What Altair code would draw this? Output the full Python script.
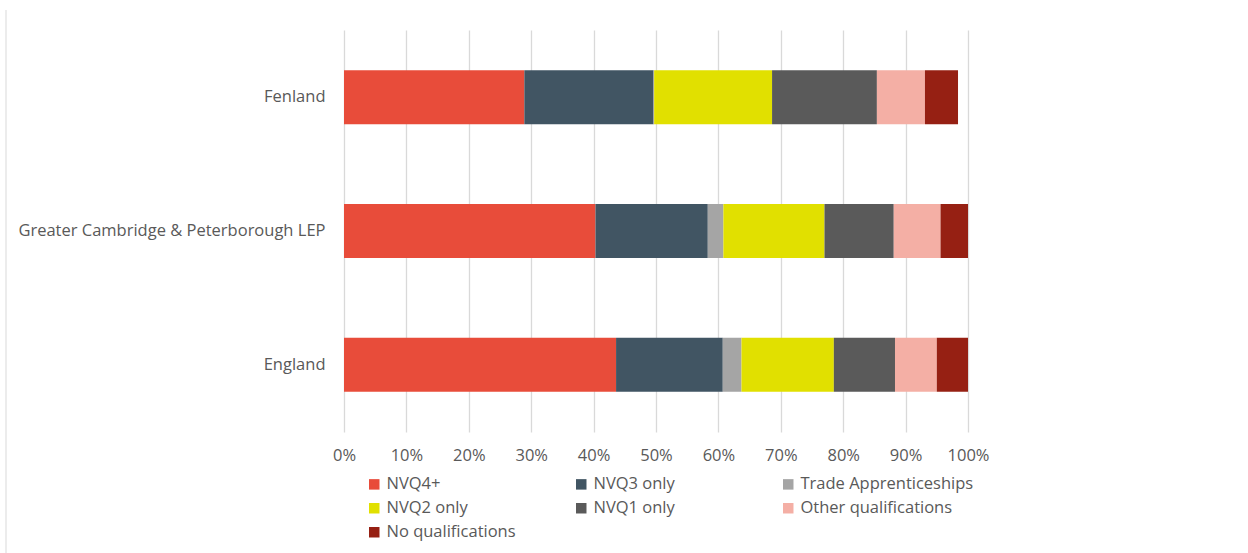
import altair as alt
import pandas as pd

areas = ["Fenland", "Greater Cambridge & Peterborough LEP", "England"]
categories = ["NVQ4+", "NVQ3 only", "Trade Apprenticeships", "NVQ2 only",
              "NVQ1 only", "Other qualifications", "No qualifications"]
colors = ["#E84C3A", "#415563", "#A5A5A5", "#E1E000", "#5A5A5A", "#F4AFA5", "#962013"]

fenland = [28.9, 20.7, 0.1, 18.9, 16.8, 7.7, 5.3]
gcp_lep = [40.3, 18.0, 2.5, 16.2, 11.1, 7.5, 4.4]
england = [43.6, 17.1, 3.0, 14.8, 9.8, 6.7, 5.0]

rows = []
for area, vals in zip(areas, [fenland, gcp_lep, england]):
    for i, (cat, v) in enumerate(zip(categories, vals)):
        rows.append({"area": area, "category": cat, "value": v / 100.0, "idx": i})
df = pd.DataFrame(rows)

font = "Open Sans"
fs = 16.5

bars = alt.Chart(df).mark_bar(size=54).encode(
    y=alt.Y("area:N", sort=areas, title=None,
            scale=alt.Scale(paddingInner=0.597, paddingOuter=0.3),
            axis=alt.Axis(domain=False, ticks=False, labelPadding=19,
                          labelFont=font, labelFontSize=fs, labelColor="#595959",
                          labelLimit=400)),
    x=alt.X("value:Q", stack="zero", title=None,
            scale=alt.Scale(domain=[0, 1], nice=False),
            axis=alt.Axis(format="%", values=[i / 10 for i in range(11)],
                          domain=False, ticks=False, grid=True,
                          gridColor="#D9D9D9", gridWidth=1.3,
                          labelPadding=15, labelFont=font, labelFontSize=fs,
                          labelColor="#595959", labelFlush=False)),
    color=alt.Color("category:N", sort=categories,
                    scale=alt.Scale(domain=categories, range=colors),
                    legend=alt.Legend(title=None, orient="none", legendX=22, legendY=446,
                                      direction="horizontal", columns=3,
                                      gridAlign="all", columnPadding=13,
                                      rowPadding=7, symbolType="square",
                                      symbolSize=110, symbolStrokeWidth=0,
                                      labelFont=font, labelFontSize=fs,
                                      labelColor="#595959", labelOffset=4,
                                      labelLimit=300)),
    order=alt.Order("idx:Q", sort="ascending"),
)

border = alt.Chart(pd.DataFrame({"v": [0]})).mark_rule(color="#D9D9D9", strokeWidth=1).encode(
    x=alt.value(-338), y=alt.value(-20), y2=alt.value(523)
)

chart = alt.layer(bars, border).properties(
    width=624, height=402,
    padding={"left": 344, "top": 30, "right": 280, "bottom": 121},
    autosize=alt.AutoSizeParams(type="none"),
    background="white",
).configure_view(stroke=None)

chart.save("out.html", embed_options={"renderer": "svg", "actions": False})
